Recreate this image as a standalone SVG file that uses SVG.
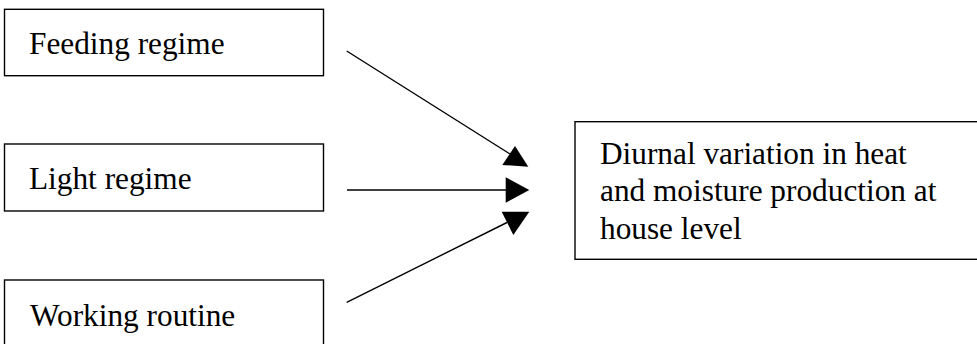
<svg xmlns="http://www.w3.org/2000/svg" width="977" height="344" viewBox="0 0 977 344">
  <style>
    .box { fill: #ffffff; stroke: #000000; stroke-width: 1.4; }
    .lbl { font-family: "Liberation Serif", "Times New Roman", serif; font-size: 31.3px; fill: #000000; }
    .conn { stroke: #000000; stroke-width: 1.4; fill: none; }
    .head { fill: #000000; stroke: none; }
  </style>
  <rect x="0" y="0" width="977" height="344" fill="#ffffff"/>
  <g id="node-feeding">
    <rect class="box" x="4.5" y="9.3" width="319" height="66.4"/>
    <text class="lbl" x="29" y="54">Feeding regime</text>
  </g>
  <g id="node-light">
    <rect class="box" x="4.5" y="144" width="319" height="67"/>
    <text class="lbl" x="29" y="189">Light regime</text>
  </g>
  <g id="node-working">
    <rect class="box" x="4.5" y="280" width="319" height="67"/>
    <text class="lbl" x="30" y="326">Working routine</text>
  </g>
  <g id="node-diurnal">
    <rect class="box" x="575" y="121.7" width="420" height="137.6"/>
    <text class="lbl" x="600" y="164">Diurnal variation in heat</text>
    <text class="lbl" x="600" y="201.3">and moisture production at</text>
    <text class="lbl" x="600" y="238.5">house level</text>
  </g>
  <g id="connectors">
    <line class="conn" x1="346.7" y1="51" x2="510" y2="154"/>
    <polygon class="head" points="515,146 502.3,165 528.3,166.7"/>
    <line class="conn" x1="347" y1="190" x2="506" y2="190"/>
    <polygon class="head" points="505.7,177.3 505.7,202.7 529.3,190"/>
    <line class="conn" x1="346.7" y1="302.3" x2="507" y2="222.5"/>
    <polygon class="head" points="501.7,211.7 529.3,211.7 513.3,235"/>
  </g>
</svg>
